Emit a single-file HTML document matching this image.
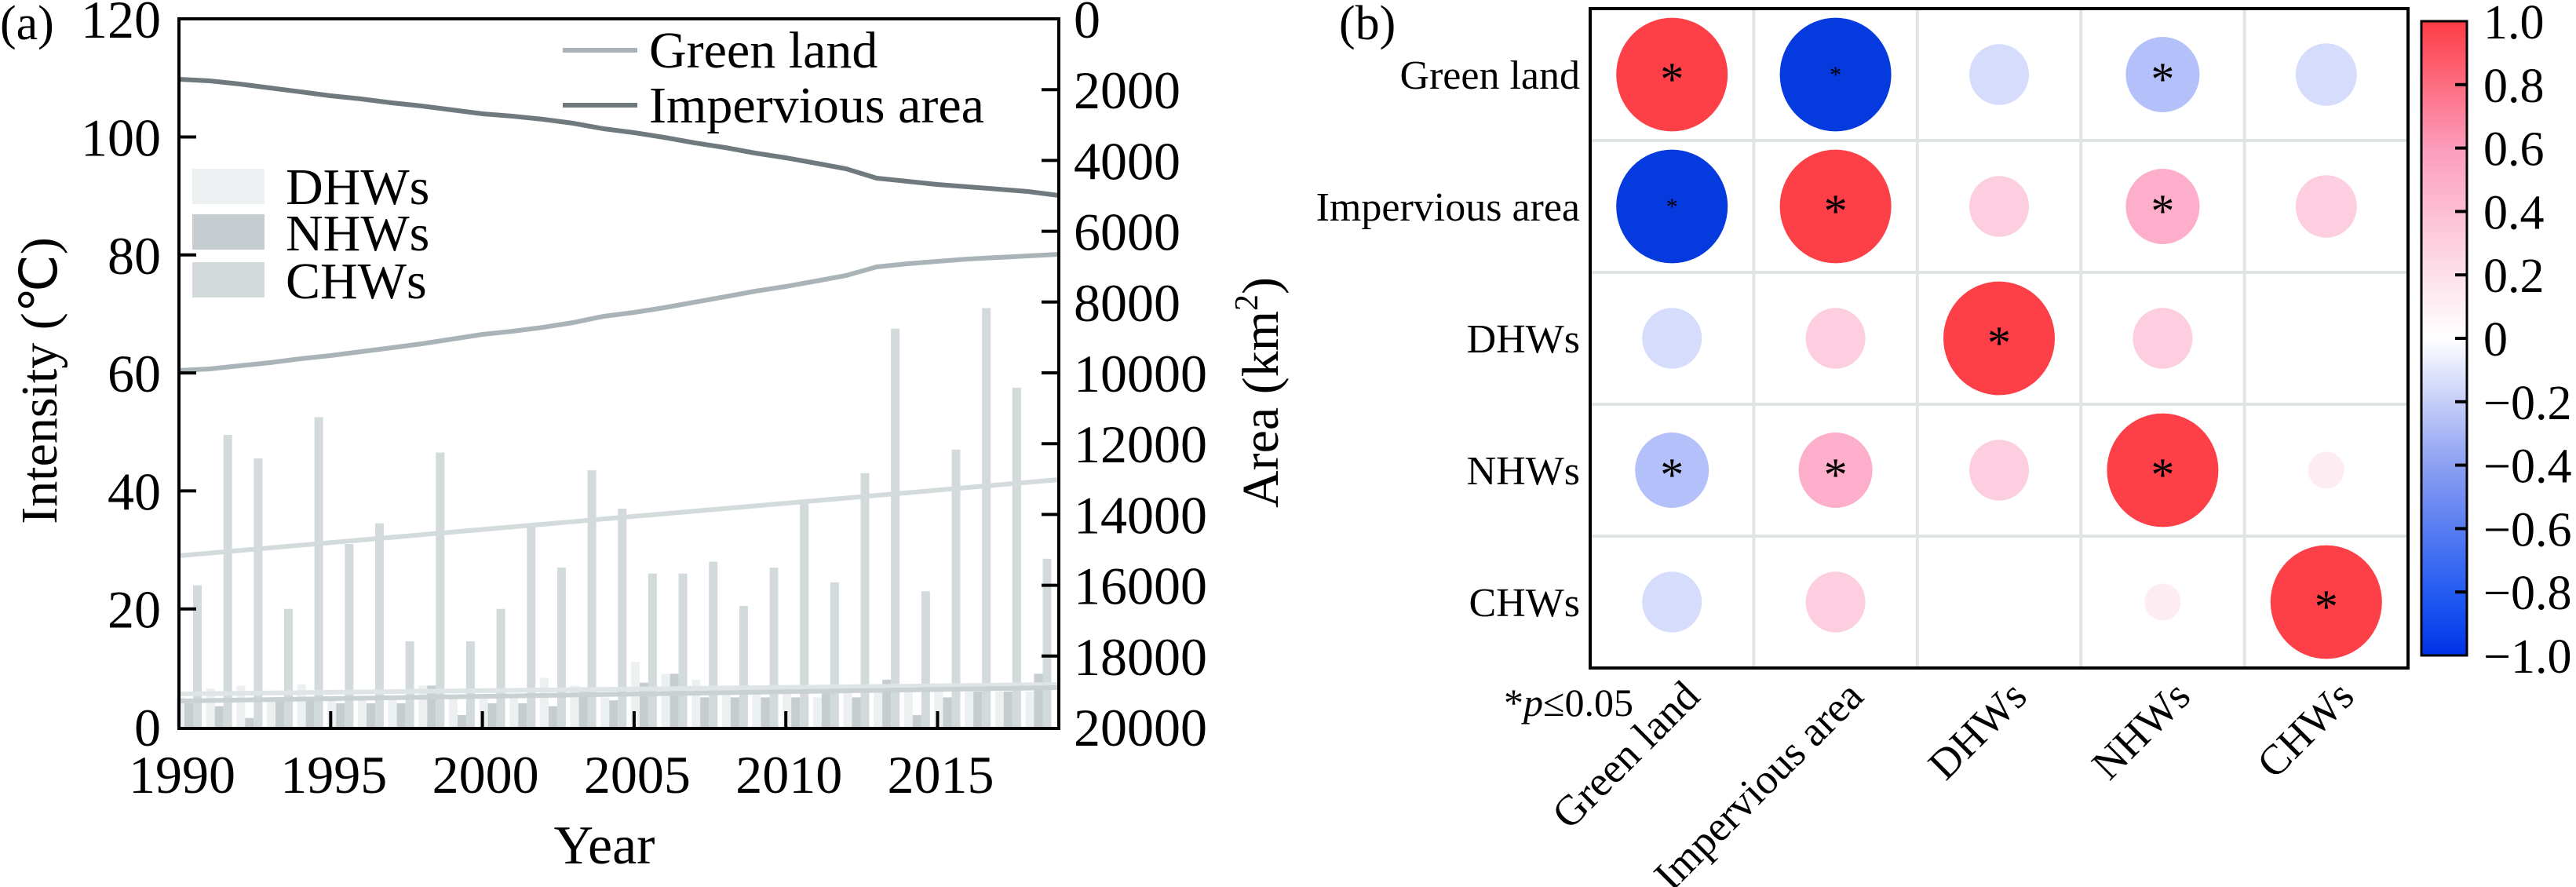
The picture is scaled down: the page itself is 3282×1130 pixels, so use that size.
<!DOCTYPE html>
<html><head><meta charset="utf-8"><style>
html,body{margin:0;padding:0;background:#fff;}
svg{display:block;font-family:"Liberation Serif",serif;}
</style></head><body>
<svg id="s" width="3282" height="1130" viewBox="0 0 3282 1130" xmlns="http://www.w3.org/2000/svg">
<rect width="3282" height="1130" fill="#fff"/>
<g id="bars"></g>
<!-- trend lines -->
<line x1="228" y1="708" x2="1349" y2="611" stroke="#d3dbdc" stroke-width="6"/>
<line x1="228" y1="884" x2="1349" y2="872" stroke="#dfe5e6" stroke-width="6"/>
<line x1="228" y1="893" x2="1349" y2="876" stroke="#c9d1d3" stroke-width="6"/>
<!-- area lines -->
<polyline fill="none" stroke="#6f7a7e" stroke-width="6" points="228,101 267,103 305,107 344,112 383,117 421,122 460,126 499,131 537,135 576,140 615,145 653,148 692,152 730,157 769,164 808,169 846,175 885,182 924,188 962,195 1001,201 1040,208 1078,215 1117,227 1156,231 1194,235 1233,238 1272,241 1310,244 1349,249"/>
<polyline fill="none" stroke="#a9b4b8" stroke-width="6" points="228,472 267,470 305,466 344,462 383,457 421,453 460,448 499,443 537,438 576,432 615,426 653,422 692,417 730,411 769,403 808,398 846,392 885,385 924,378 962,371 1001,365 1040,358 1078,351 1117,340 1156,336 1194,333 1233,330 1272,328 1310,326 1349,324"/>
<!-- axes box -->
<rect x="228" y="24" width="1121" height="904" fill="none" stroke="#000" stroke-width="4"/>
<g stroke="#000" stroke-width="4" id="ticks"></g>
<g font-size="68" fill="#000" text-anchor="end" id="ylab"></g>
<g font-size="68" fill="#000" text-anchor="start" id="y2lab"></g>
<g font-size="68" fill="#000" text-anchor="middle" id="xlab"></g>
<text x="0" y="50" font-size="62">(a)</text>
<text x="770" y="1100" font-size="70" text-anchor="middle">Year</text>
<text transform="translate(72,485) rotate(-90)" font-size="66" text-anchor="middle">Intensity (℃)</text>
<text transform="translate(1628,500) rotate(-90)" font-size="66" text-anchor="middle">Area (km<tspan font-size="42" dy="-26">2</tspan><tspan dy="26">)</tspan></text>
<!-- legends -->
<line x1="717" y1="64" x2="812" y2="64" stroke="#a9b4b8" stroke-width="6"/>
<line x1="717" y1="134" x2="812" y2="134" stroke="#6f7a7e" stroke-width="6"/>
<text x="827" y="86" font-size="66">Green land</text>
<text x="827" y="156" font-size="66">Impervious area</text>
<rect x="245" y="215" width="92" height="45" fill="#eef1f1"/>
<rect x="245" y="273" width="92" height="45" fill="#c5cdd0"/>
<rect x="245" y="334" width="92" height="45" fill="#d3dadc"/>
<text x="364" y="260" font-size="66">DHWs</text>
<text x="364" y="319" font-size="66">NHWs</text>
<text x="364" y="380" font-size="66">CHWs</text>

<!-- panel b -->
<text x="1706" y="50" font-size="62">(b)</text>
<g id="grid" stroke="#dfe5e5" stroke-width="4"></g>
<g id="circ"></g>
<rect x="2026" y="11" width="1042" height="840" fill="none" stroke="#000" stroke-width="4"/>
<g font-size="52" text-anchor="end">
<text x="2013" y="113">Green land</text>
<text x="2013" y="281">Impervious area</text>
<text x="2013" y="449">DHWs</text>
<text x="2013" y="617">NHWs</text>
<text x="2013" y="785">CHWs</text>
</g>
<g font-size="54" text-anchor="end" id="blab"></g>
<text x="1916" y="912" font-size="50">*<tspan font-style="italic">p</tspan>≤0.05</text>
<defs><linearGradient id="cb" x1="0" y1="1" x2="0" y2="0">
<stop offset="0" stop-color="#0032e6"/><stop offset="0.08" stop-color="#1a55f0"/>
<stop offset="0.3" stop-color="#8c9ff2"/><stop offset="0.45" stop-color="#e2e6fb"/>
<stop offset="0.5" stop-color="#ffffff"/><stop offset="0.6" stop-color="#fde0ea"/>
<stop offset="0.8" stop-color="#fc9cbc"/><stop offset="1" stop-color="#fd3c44"/>
</linearGradient></defs>
<rect x="3085" y="27" width="58" height="808" fill="url(#cb)" stroke="#000" stroke-width="3"/>
<g id="cbt" font-size="62"></g>
</svg>
<script>
var NS="http://www.w3.org/2000/svg";
function el(p,t,a,txt){var e=document.createElementNS(NS,t);for(var k in a)e.setAttribute(k,a[k]);if(txt!=null)e.textContent=txt;document.getElementById(p).appendChild(e);return e;}
var x0=228,py=38.66,y0=926,sy=150.3/20;
function X(y){return x0+(y-1990)*py;}
function Y(v){return y0-v*sy;}
var chw=[24,49.5,45.5,20,52.5,31,34.5,14.5,46.5,14.5,20,34,27,43.5,37,26,26,28,20.5,27,38,24.5,43,67.5,23,47,71,57.5,28.5];
var dhw=[5,6.5,7,5,7.2,5,5,5,7,5,5,5,8.3,7,5,11,9,8,7,7,7,5,6,6,6,6,6,6,6];
var nhw=[4,3.5,1.5,5,5,4,4,4,7,2,4,4,3.5,6,4.5,7.5,9,5,5,5,5,6,5,8,2,5,6,6,9];
for(var i=0;i<29;i++){var yr=1990+i;
el("bars","rect",{x:X(yr)-4,y:Y(dhw[i]),width:11,height:y0-Y(dhw[i]),fill:"#edf0f0"});
el("bars","rect",{x:X(yr)+7,y:Y(nhw[i]),width:11,height:y0-Y(nhw[i]),fill:"#c5cdd0"});
el("bars","rect",{x:X(yr)+18,y:Y(chw[i]),width:11,height:y0-Y(chw[i]),fill:"#d3dadc"});}
for(var v=0;v<=120;v+=20){var yy=Y(v);if(v>0&&v<120)el("ticks","line",{x1:228,y1:yy,x2:250,y2:yy});el("ylab","text",{x:205,y:yy+24},v);}
for(var a=0;a<=20000;a+=2000){var yy=24+a/20000*902;if(a>0&&a<20000)el("ticks","line",{x1:1327,y1:yy,x2:1349,y2:yy});el("y2lab","text",{x:1368,y:yy+24},a);}
for(var yr=1990;yr<=2015;yr+=5){var xx=X(yr);if(yr>1990)el("ticks","line",{x1:xx,y1:906,x2:xx,y2:926});el("xlab","text",{x:xx+4,y:1010},yr);}
// panel b
var bx=2026,by=11,cw=208.4,ch=168;
for(var k=1;k<5;k++){el("grid","line",{x1:bx+k*cw,y1:by,x2:bx+k*cw,y2:by+840});el("grid","line",{x1:bx,y1:by+k*ch,x2:bx+1042,y2:by+k*ch});}
var R="#fd3f47",B="#053ade",LB="#d6dcfb",MB="#b4c0f9",LP="#fdcde0",MP="#fcaecb",FP="#fdedf2";
var M=[[[71,R,1],[71,B,2],[38,LB],[47,MB,1],[39,LB]],
[[71,B,2],[71,R,1],[38,LP],[47,MP,1],[39,LP]],
[[38,LB],[38,LP],[71,R,1],[38,LP],[0]],
[[47,MB,1],[47,MP,1],[38,LP],[71,R,1],[23,FP]],
[[38,LB],[38,LP],[0],[23,FP],[71,R,1]]];
for(var r=0;r<5;r++)for(var c=0;c<5;c++){var m=M[r][c];var cx=bx+cw*(c+0.5),cy=by+ch*(r+0.5);
if(m[0]>0)el("circ","ellipse",{cx:cx,cy:cy,rx:m[0],ry:m[0]*1.02,fill:m[1]});
if(m[2])el("circ","text",{x:cx,y:cy+(m[2]==1?26:10),"font-size":m[2]==1?60:30,"text-anchor":"middle"},"*");}
var bl=["Green land","Impervious area","DHWs","NHWs","CHWs"];
for(var c=0;c<5;c++){var cx=bx+cw*(c+0.5)+38;el("blab","text",{transform:"translate("+cx+",890) rotate(-45)"},bl[c]);}
var labs=["1.0","0.8","0.6","0.4","0.2","0","−0.2","−0.4","−0.6","−0.8","−1.0"];
for(var i=0;i<11;i++){var yy=27+i*80.8;if(i>0&&i<10)el("cbt","line",{x1:3128,y1:yy,x2:3143,y2:yy,stroke:"#000","stroke-width":4});el("cbt","text",{x:3164,y:yy+22},labs[i]);}
</script>
</body></html>
